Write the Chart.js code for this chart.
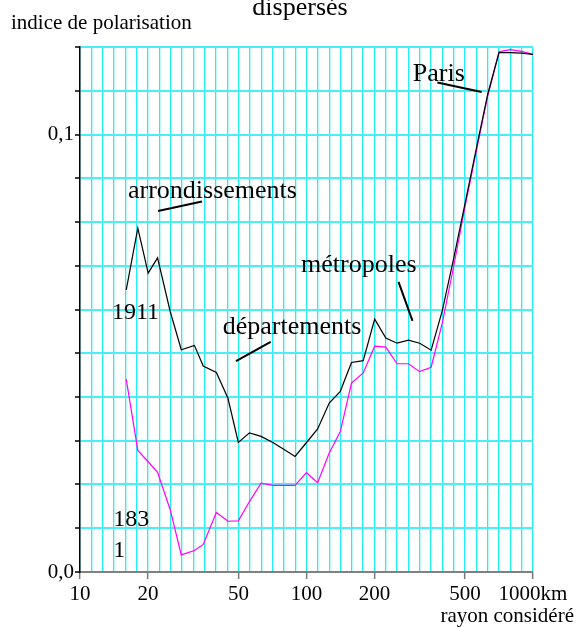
<!DOCTYPE html>
<html><head><meta charset="utf-8">
<script src="https://cdn.jsdelivr.net/npm/chart.js@4"></script>
<style>html,body{margin:0;padding:0;background:#fff;}#wrap{width:576px;height:628px;}</style>
</head><body><div id="wrap"><canvas id="c" width="576" height="628"></canvas></div>
<script>
// ---- data ----
const radiusKm = [16,18,20,22,25,28,32,35,40,45,50,56,63,71,79,89,100,112,126,141,158,178,200,224,251,282,316,355,398,447,501,562,631,708,794,891,1000];
const index1911 = [0.0645,0.0786,0.0683,0.0718,0.0596,0.0508,0.0518,0.0471,0.0456,0.0397,0.0296,0.0318,0.0310,0.0296,0.0281,0.0264,0.0296,0.0327,0.0386,0.0413,0.0479,0.0483,0.0578,0.0535,0.0523,0.0530,0.0523,0.0507,0.0598,0.0718,0.0842,0.0968,0.1092,0.1187,0.1187,0.1186,0.1183];
const index1831 = [0.0441,0.0278,0.0252,0.0228,0.0143,0.0039,0.0049,0.0063,0.0136,0.0116,0.0117,0.0161,0.0203,0.0198,0.0198,0.0198,0.0227,0.0204,0.0272,0.0321,0.0432,0.0455,0.0516,0.0514,0.0476,0.0476,0.0458,0.0468,0.0570,0.0700,0.0835,0.0962,0.1088,0.1189,0.1194,0.1190,0.1183];
const xTickValues = [10,20,50,100,200,500,1000];
const xTickLabels = ['10','20','50','100','200','500','1000km'];
const yTickValues = [0,0.01,0.02,0.03,0.04,0.05,0.06,0.07,0.08,0.09,0.10,0.11,0.12];
const yLabelValues = [0,0.1];
const yLabelTexts = ['0,0','0,1'];
const xGridPerDecade = 20;

// annotations in data coordinates
const notes = [
  {text:'Paris', x:294.5, y:0.1123, size:26},
  {text:'arrondissements', x:16.29, y:0.0856, size:26},
  {text:'1911', x:13.84, y:0.0579, size:24},
  {text:'départements', x:42.66, y:0.0543, size:26},
  {text:'métropoles', x:94.6, y:0.0686, size:26},
  {text:'183', x:14.03, y:0.0106, size:24},
  {text:'1', x:14.03, y:0.0035, size:24}
];
const pointers = [
  {x1:378, y1:0.1119, x2:593.5, y2:0.1097},
  {x1:22.1, y1:0.0825, x2:34.56, y2:0.0847},
  {x1:48.84, y1:0.0482, x2:69.5, y2:0.0526},
  {x1:254.8, y1:0.0663, x2:293.8, y2:0.0574}
];

const SERIF = '"Liberation Serif", "Times New Roman", serif';
const GRID = '#22eef6';

function labelFor(v){
  const lv = Math.log10(v);
  for (let i=0;i<xTickValues.length;i++){
    if (Math.abs(lv - Math.log10(xTickValues[i])) < 0.006) return xTickLabels[i];
  }
  return '';
}

const overlay = {
  id:'overlay',
  afterDraw(chart){
    const ctx = chart.ctx, xs = chart.scales.x, ys = chart.scales.y;
    ctx.save();
    ctx.fillStyle = '#000';
    ctx.textBaseline = 'alphabetic';
    ctx.font = '21px ' + SERIF;
    ctx.textAlign = 'left';
    ctx.fillText('indice de polarisation', 11, 29);
    ctx.textAlign = 'right';
    ctx.fillText('rayon considéré', 574, 622);
    ctx.font = '26px ' + SERIF;
    ctx.textAlign = 'center';
    ctx.fillText('dispersés', 300, 15);
    ctx.textAlign = 'left';
    notes.forEach(n => {
      ctx.font = n.size + 'px ' + SERIF;
      ctx.fillText(n.text, xs.getPixelForValue(n.x), ys.getPixelForValue(n.y));
    });
    ctx.strokeStyle = '#000';
    ctx.lineWidth = 2;
    pointers.forEach(p => {
      ctx.beginPath();
      ctx.moveTo(xs.getPixelForValue(p.x1), ys.getPixelForValue(p.y1));
      ctx.lineTo(xs.getPixelForValue(p.x2), ys.getPixelForValue(p.y2));
      ctx.stroke();
    });
    ctx.restore();
  }
};

new Chart(document.getElementById('c'), {
  type:'line',
  data:{
    datasets:[
      {label:'1911', data: radiusKm.map((x,i)=>({x, y:index1911[i]})), borderColor:'#000', borderWidth:1.2, pointRadius:0, tension:0, fill:false},
      {label:'1831', data: radiusKm.map((x,i)=>({x, y:index1831[i]})), borderColor:'#ff00ff', borderWidth:1.2, pointRadius:0, tension:0, fill:false}
    ]
  },
  options:{
    responsive:false, animation:false, devicePixelRatio:1,
    layout:{padding:{top:47, right:43, bottom:0, left:0}},
    plugins:{legend:{display:false}, tooltip:{enabled:false}, title:{display:false}},
    scales:{
      x:{
        type:'logarithmic', min:10, max:1000,
        afterBuildTicks: s => {
          const t = [];
          for (let k=0;k<=2*xGridPerDecade;k++) t.push({value: Math.pow(10, 1 + k/xGridPerDecade)});
          s.ticks = t;
        },
        afterFit: s => { s.height = 56; },
        grid:{color:GRID, lineWidth:1.3, drawTicks:true, tickLength:7, tickWidth:1.5,
              tickColor: c => (c.tick && labelFor(c.tick.value) !== '') ? '#777' : 'rgba(0,0,0,0)'},
        border:{display:true, color:'#808080', width:2},
        ticks:{autoSkip:false, maxRotation:0, minRotation:0, color:'#000', padding:3,
               font:{family:SERIF, size:21}, callback: v => labelFor(v)}
      },
      y:{
        type:'linear', min:0, max:0.12,
        afterBuildTicks: s => { s.ticks = yTickValues.map(v => ({value:v})); },
        afterFit: s => { s.width = 80; },
        grid:{color:'#4aeef6', lineWidth:2, drawTicks:true, tickLength:5, tickWidth:1.5, tickColor:'#000'},
        border:{display:true, color:'#000', width:1.5},
        ticks:{color:'#000', padding:1, font:{family:SERIF, size:21},
               callback: v => { for (let i=0;i<yLabelValues.length;i++){ if (Math.abs(v-yLabelValues[i])<1e-9) return yLabelTexts[i]; } return ''; }}
      }
    }
  },
  plugins:[overlay]
});
</script></body></html>
